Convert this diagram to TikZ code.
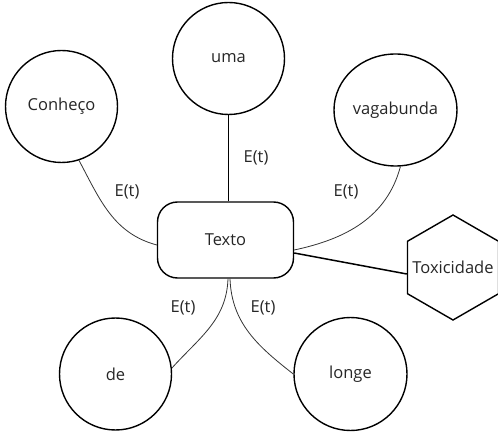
\documentclass[tikz,border=0pt]{standalone}
\usepackage{fontspec}
\setmainfont{Open Sans}
\usetikzlibrary{shapes.geometric,calc}
\begin{document}
\begin{tikzpicture}[x=1pt,y=1pt,
  font=\fontsize{16.5}{19}\selectfont,
  every node/.style={text=black!85},
  boxline/.style={draw=black, line width=1.4pt},
  circ/.style={boxline, circle, minimum size=112pt, inner sep=0pt},
  thickline/.style={draw=black, line width=1.5pt},
  thinline/.style={draw=black!80, line width=0.8pt},
  lbl/.style={inner sep=0pt}]
\useasboundingbox (0,0) rectangle (498,434);
\clip (0,0) rectangle (498,434);
\node[circ] (uma) at (228.5,375.5) {uma};
\node[circ] (con) at (61.5,327.5) {Conheço};
\node[boxline, ellipse, minimum width=123pt, minimum height=112pt, inner sep=0pt] (vag) at (395.5,324) {vagabunda};
\node[circ] (de) at (115.5,60) {de};
\node[circ, minimum size=113pt] (lon) at (350.5,60) {longe};
\node[boxline, rectangle, rounded corners=20pt, minimum width=136pt, minimum height=76pt] (tex) at (225.5,194) {Texto};
\node[boxline, regular polygon, regular polygon sides=6, shape border rotate=30, minimum size=105pt, inner sep=0pt] (tox) at (453,166.5) {};
\node (toxt) at (453,166.5) {Toxicidade};
\draw[thickline] (uma.south) -- (uma.south |- tex.north);
\draw[thickline] ($(tex.east)+(0,-13)$) -- ($(tox.west)+(0,-6.5)$);
\draw[thinline] (con.-72) to[out=-62, in=165] ($(tex.west)+(0,-5)$);
\draw[thinline] (vag.-85) to[out=-105, in=12] ($(tex.east)+(0,-10)$);
\draw[thinline] (de.6) to[out=48, in=-92] ($(tex.south)+(2.5,0)$);
\draw[thinline] ($(tex.south)+(4.5,0)$) to[out=-88, in=142] (lon.west);
\node[lbl] (l1) at (127,242) {E(t)};
\node[lbl] (l2) at (256,276) {E(t)};
\node[lbl] (l3) at (346,242) {E(t)};
\node[lbl] (l4) at (183,126) {E(t)};
\node[lbl] (l5) at (263,126) {E(t)};
\end{tikzpicture}
\end{document}
